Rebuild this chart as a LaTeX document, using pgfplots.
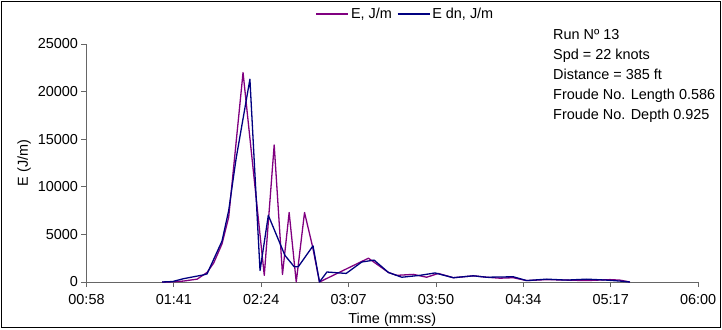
\documentclass[border=0pt]{standalone}
\usepackage{fontspec}
\setmainfont{Liberation Sans}
\usepackage{pgfplots}
\pgfplotsset{compat=1.18}
\definecolor{epurple}{HTML}{800080}
\definecolor{enavy}{HTML}{000080}
\begin{document}
\begin{tikzpicture}
\path (0bp,0bp) rectangle (722bp,329bp);
\draw[black, line width=1bp] (1.5bp,1.5bp) rectangle (720.5bp,327.5bp);
\begin{axis}[
  at={(86.5bp,47bp)}, anchor=south west,
  scale only axis, width=611.6bp, height=238bp,
  xmin=58, xmax=360.4, ymin=0, ymax=25000,
  scaled y ticks=false,
  axis x line*=bottom, axis y line*=left,
  axis line style={-, black!60, line width=0.8bp},
  tick style={black!60, line width=0.8bp},
  major tick length=5bp, tick align=outside,
  xtick={58,101.2,144.4,187.6,230.8,274,317.2,360.4},
  xticklabels={00:58,01:41,02:24,03:07,03:50,04:34,05:17,06:00},
  ytick={0,5000,10000,15000,20000,25000},
  yticklabels={0,5000,10000,15000,20000,25000},
  ticklabel style={font=\fontsize{14.5}{17}\selectfont},
  xticklabel style={yshift=-4bp},
  label style={font=\fontsize{14.5}{17}\selectfont},
  xlabel={Time (mm:ss)},
  xlabel style={yshift=-1bp},
  ylabel={E (J/m)},
  legend columns=2,
  legend style={at={(0.5216,1.126)}, anchor=center, draw=none, fill=none,
    font=\fontsize{14.5}{17}\selectfont,
    /tikz/every even column/.append style={column sep=3bp}},
  legend image code/.code={\draw[#1] (0bp,0bp) -- (32bp,0bp);},
  clip=false,
]
\addplot[epurple, line width=1.3bp, line join=round] coordinates {
(95.4,0) (100.6,20) (106.0,100) (112.7,300) (117.6,1000) (120.9,2000)
(125.0,4000) (128.3,6800) (135.4,22000) (145.9,700) (150.8,14400)
(154.9,800) (158.2,7300) (161.7,0) (165.8,7300) (169.8,3700) (173.2,0)
(197.4,2500) (207.3,1000) (211.4,700) (219.6,800) (226.2,500) (231.9,900)
(239.4,450) (249.3,650) (255.9,500) (262.4,400) (269.0,450) (275.6,150)
(285.5,250) (295.4,200) (305.3,150) (316.8,250) (321.7,200) (326.7,0)
};
\addlegendentry{E, J/m}
\addplot[enavy, line width=1.3bp, line join=round] coordinates {
(95.4,0) (100.6,50) (106.0,350) (115.9,750) (117.6,850) (125.0,4300)
(128.3,7500) (132.0,13000) (138.8,21300) (143.8,1200) (147.9,7000)
(156.1,2800) (160.7,1600) (162.7,1600) (170.0,3800) (173.2,0)
(176.9,1050) (186.4,900) (194.1,2100) (200.2,2300) (207.3,1000)
(213.9,500) (222.9,700) (230.3,950) (239.4,450) (249.3,650) (255.9,500)
(269.0,550) (275.6,150) (285.5,300) (295.4,200) (305.3,300) (315.1,200)
(321.7,100) (326.7,0)
};
\addlegendentry{E dn, J/m}
\end{axis}
\begin{scope}[every node/.style={anchor=base west, inner sep=0pt, font=\fontsize{14.5}{17}\selectfont}]
\node at (553bp,289.5bp) {Run Nº 13};
\node at (553bp,269.5bp) {Spd = 22 knots};
\node at (553bp,249.5bp) {Distance = 385 ft};
\node at (553bp,229.5bp) {Froude No. Length 0.586};
\node at (553bp,209.5bp) {Froude No. Depth 0.925};
\end{scope}
\end{tikzpicture}
\end{document}
